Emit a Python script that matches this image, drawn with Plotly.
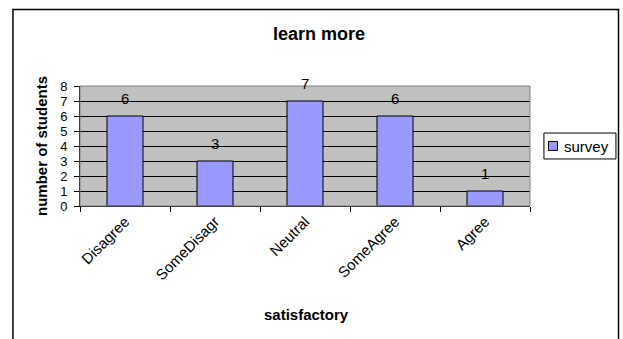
import plotly.graph_objects as go

categories = ["Disagree", "SomeDisagr", "Neutral", "SomeAgree", "Agree"]
survey = [6, 3, 7, 6, 1]
series_name = "survey"
y_ticks = [0, 1, 2, 3, 4, 5, 6, 7, 8]

FONT = "Arial, Liberation Sans, sans-serif"
BAR_COLOR = "#9999FF"

fig = go.Figure()
fig.add_trace(go.Bar(
    x=categories, y=survey, name=series_name,
    marker=dict(color=BAR_COLOR, line=dict(color="black", width=1)),
    width=0.4, showlegend=False,
))

annotations = []
for c, v in zip(categories, survey):
    annotations.append(dict(x=c, y=v, xref="x", yref="y", text=str(v),
                            showarrow=False, yshift=18, yanchor="middle",
                            font=dict(family=FONT, size=15, color="black")))
annotations.append(dict(x=0.503, y=-0.908, xref="paper", yref="paper",
                        text="<b>satisfactory</b>", showarrow=False,
                        xanchor="center", yanchor="middle",
                        font=dict(family=FONT, size=15, color="black")))
annotations.append(dict(x=-0.0867, y=0.5, xref="paper", yref="paper",
                        text="<b>number of students</b>", showarrow=False,
                        textangle=-90, xanchor="center", yanchor="middle",
                        font=dict(family=FONT, size=15, color="black")))
# legend text
annotations.append(dict(x=1.071, y=0.5, xref="paper", yref="paper",
                        text=series_name, showarrow=False,
                        xanchor="left", yanchor="middle",
                        font=dict(family=FONT, size=15, color="black")))

shapes = [
    # plot area border (grey)
    dict(type="rect", xref="paper", yref="paper", x0=0, x1=1, y0=0, y1=1,
         line=dict(color="#808080", width=1), layer="above"),
    # outer chart border
    dict(type="rect", xref="paper", yref="paper", x0=-0.149, x1=1.1967,
         y0=-1.2, y1=1.6375, line=dict(color="black", width=1.5)),
    # legend box
    dict(type="rect", xref="paper", yref="paper", x0=1.031, x1=1.191,
         y0=0.392, y1=0.608, fillcolor="white",
         line=dict(color="black", width=1)),
    # legend symbol
    dict(type="rect", xref="paper", yref="paper", x0=1.041, x1=1.061,
         y0=0.463, y1=0.538, fillcolor=BAR_COLOR,
         line=dict(color="black", width=1)),
]

fig.update_layout(
    width=623, height=339,
    margin=dict(l=80, r=93, t=86, b=133),
    paper_bgcolor="white", plot_bgcolor="#C0C0C0",
    font=dict(family=FONT, size=14, color="black"),
    title=dict(text="<b>learn more</b>", x=0.512, y=0.9, xanchor="center",
               yanchor="middle", font=dict(family=FONT, size=18, color="black")),
    showlegend=False,
    bargap=0.6,
    annotations=annotations,
    shapes=shapes,
)
fig.update_xaxes(
    type="category", tickangle=-45, tickson="boundaries",
    ticks="outside", ticklen=5, tickcolor="black",
    showline=True, linecolor="black", linewidth=1,
    showgrid=False, tickfont=dict(family=FONT, size=15, color="black"),
)
fig.update_yaxes(
    range=[0, 8], tickvals=y_ticks, ticks="outside", ticklen=5,
    tickcolor="black", showline=True, linecolor="black", linewidth=1,
    showgrid=True, gridcolor="black", gridwidth=1, zeroline=False,
    ticklabelstandoff=4,
    tickfont=dict(family=FONT, size=13, color="black"),
)

fig.write_html("out.html")
